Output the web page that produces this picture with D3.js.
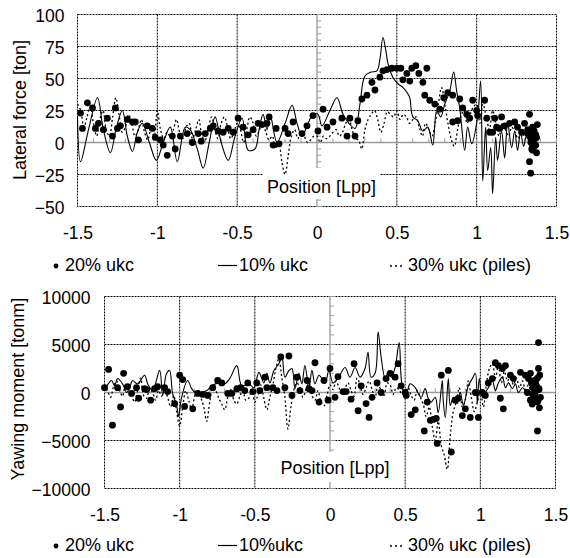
<!DOCTYPE html>
<html><head><meta charset="utf-8">
<script src="https://cdn.jsdelivr.net/npm/d3@7"></script>
<style>
body{margin:0;background:#fff}
svg text{font-family:"Liberation Sans",Arial,sans-serif;fill:#000}
</style></head><body>
<svg id="c" width="570" height="558"></svg>
<script>
// ---------------- data ----------------
const xTicks = [-1.5, -1, -0.5, 0, 0.5, 1, 1.5];
const forceTicks = [-50, -25, 0, 25, 50, 75, 100];
const momentTicks = [-10000, -5000, 0, 5000, 10000];
const legendTop = ["20% ukc", "10% ukc", "30% ukc (piles)"];
const legendBottom = ["20% ukc", "10%ukc", "30% ukc (piles)"];

// 10% ukc, lateral force (solid line)
const force10x = [-1.5,-1.481,-1.431,-1.375,-1.338,-1.294,-1.256,-1.219,-1.188,-1.156,-1.125,-1.094,-1.05,-1.006,-0.963,-0.919,-0.875,-0.825,-0.794,-0.75,-0.713,-0.675,-0.638,-0.6,-0.556,-0.513,-0.469,-0.431,-0.388,-0.363,-0.338,-0.313,-0.294,-0.25,-0.2,-0.156,-0.125,-0.094,-0.056,-0.025,0.006,0.031,0.081,0.125,0.163,0.2,0.238,0.269,0.3,0.338,0.375,0.394,0.413,0.431,0.444,0.475,0.506,0.538,0.569,0.581,0.6,0.631,0.663,0.694,0.725,0.75,0.775,0.8,0.831,0.856,0.875,0.894,0.925,0.944,0.969,1.006,1.025,1.038,1.056,1.069,1.088,1.1,1.119,1.131,1.156,1.175,1.194,1.219,1.238,1.256,1.275,1.294,1.313,1.331];
const force10y = [20,-15,10,35,10,-8,12,25,5,-7,8,15,0,-14,0,12,-15,12,10,-5,-20,0,20,0,-14,5,19,-6,-5,10,22,10,22,0,15,29,15,5,15,22,22,13,25,35,22,15,11,30,52,55,56,65,82,72,62,51,46,43,38,35,20,17,9,12,-2,25,20,30,40,55,40,27,-6,12,-1,20,48,-30,12,-22,-4,-40,4,-14,9,-12,15,-4,9,-6,8,-3,6,0];

// 20% ukc, lateral force (dots)
const force20x = [-1.481,-1.438,-1.406,-1.469,-1.388,-1.369,-1.338,-1.313,-1.281,-1.263,-1.25,-1.231,-1.188,-1.156,-1.138,-1.119,-1.063,-1.031,-1.013,-0.981,-0.963,-0.938,-0.906,-0.888,-0.856,-0.813,-0.781,-0.744,-0.725,-0.7,-0.669,-0.65,-0.619,-0.588,-0.556,-0.525,-0.494,-0.463,-0.431,-0.4,-0.369,-0.344,-0.313,-0.3,-0.275,-0.256,-0.238,-0.2,-0.181,-0.15,-0.094,-0.063,-0.025,0.006,0.038,0.063,0.1,0.156,0.188,0.206,0.238,0.256,0.281,0.313,0.344,0.363,0.394,0.413,0.438,0.469,0.5,0.525,0.538,0.563,0.581,0.594,0.619,0.638,0.663,0.675,0.688,0.706,0.738,0.769,0.794,0.819,0.85,0.85,0.881,0.894,0.913,0.938,0.956,0.975,1.0,1.006,1.05,1.063,1.081,1.1,1.113,1.125,1.144,1.156,1.175,1.206,1.238,1.256,1.281,1.3,1.319,1.331,1.344,1.35,1.331,1.338,1.32,1.33,1.34,1.345,1.35,1.355,1.36,1.365,1.37,1.375,1.38,1.34,1.35,1.36,1.37,1.375];
const force20y = [23,31,27,11,11,15,10,19,5,27,11,13,18,16,16,2,13,11,4,2,-2,-10,5,-5,5,7,0,7,1,7,11,13,9,8,11,8,19,12,6,10,15,14,15,20,-2,11,-1,11,7,16,7,13,21,9,26,12,16,19,5,19,5,17,34,37,47,41,51,56,57,58,58,58,49,54,48,58,60,54,47,37,58,33,30,26,35,39,37,16,17,34,27,22,19,33,25,21,33,19,8,8,19,12,11,20,13,15,16,12,8,15,7,22,4,-2,-15,-24,10,5,0,-5,12,8,-3,3,6,-8,14,2,-6,9,-2,4];

// 30% ukc (piles): common positions and both responses (dotted lines)
const pileX = [-1.5,-1.48,-1.46,-1.44,-1.42,-1.4,-1.38,-1.36,-1.34,-1.32,
-1.3,-1.28,-1.26,-1.24,-1.22,-1.2,-1.18,-1.16,-1.14,-1.12,
-1.1,-1.08,-1.06,-1.04,-1.02,-1,-0.98,-0.96,-0.94,-0.92,
-0.9,-0.88,-0.86,-0.84,-0.82,-0.8,-0.78,-0.76,-0.74,-0.72,
-0.7,-0.68,-0.66,-0.64,-0.62,-0.6,-0.58,-0.56,-0.54,-0.52,
-0.5,-0.48,-0.46,-0.44,-0.42,-0.4,-0.38,-0.36,-0.34,-0.32,
-0.3,-0.28,-0.26,-0.24,-0.22,-0.2,-0.18,-0.16,-0.14,-0.12,
-0.1,-0.08,-0.06,-0.04,-0.02,0,0.02,0.04,0.06,0.08,
0.1,0.12,0.14,0.16,0.18,0.2,0.22,0.24,0.26,0.28,
0.3,0.32,0.34,0.36,0.38,0.4,0.42,0.44,0.46,0.48,
0.5,0.52,0.54,0.56,0.58,0.6,0.62,0.64,0.66,0.68,
0.7,0.72,0.74,0.76,0.78,0.8,0.82,0.84,0.86,0.88,
0.9,0.92,0.94,0.96,0.98,1,1.02,1.04,1.06,1.08,
1.1,1.12,1.14,1.16,1.18,1.2,1.22,1.24,1.26,1.28,
1.3,1.32,1.34,1.36];
const force30y = [30,25,12,20,28,15,5,18,25,10,
5,20,35,22,8,12,22,15,5,10,
18,8,2,10,5,25,10,3,8,5,
10,18,8,3,12,15,3,10,18,5,
2,12,20,10,3,15,20,12,3,8,
15,10,0,10,20,15,5,10,15,8,
2,5,-5,0,-15,-25,-10,5,10,3,
8,5,0,2,5,5,0,5,3,5,
8,10,5,8,15,18,10,3,2,-5,
10,18,22,25,18,8,15,24,22,20,
25,18,22,20,15,18,20,12,5,15,
10,5,15,30,43,30,15,3,-3,10,
20,25,15,22,28,30,15,30,20,10,
25,15,5,15,10,5,12,8,3,10,
5,8,0,5];
const moment30y = [800,200,-500,600,1200,300,-400,800,300,-300,
-1000,200,1500,-300,-600,400,0,-800,200,-400,
300,-500,-1500,-300,-2000,-3500,-1500,200,-800,-1800,
-400,300,-500,-1500,-3000,-1000,500,200,-600,-1200,
-1800,-500,300,-800,-1200,-400,200,-800,-600,300,
-1000,-300,800,-600,-1800,-500,800,2500,3500,1500,
-500,-3800,-1500,300,1000,500,-500,300,1000,-300,
-800,200,-1000,-1400,-300,800,300,1200,500,-300,
400,1000,200,-400,1500,800,-200,500,1200,300,
-500,800,200,-300,1000,800,-200,500,300,-200,
200,500,-300,-800,200,-500,-1200,-2500,-1500,-3500,
-5000,-3000,-5500,-6500,-8000,-4500,-2000,-1000,500,-1500,
-800,1200,-500,-2000,-1000,200,-1500,800,2500,3000,
1500,2800,1000,2200,1200,1800,800,1500,500,1200,
300,800,0,500];

// 10% ukc, yawing moment (solid line)
const moment10x = [-1.5,-1.48,-1.453,-1.433,-1.413,-1.38,-1.353,-1.333,-1.313,-1.28,-1.233,-1.213,-1.18,-1.133,-1.113,-1.087,-1.067,-1.047,-1.02,-1.007,-0.987,-0.947,-0.92,-0.887,-0.853,-0.82,-0.787,-0.74,-0.7,-0.667,-0.62,-0.587,-0.54,-0.507,-0.473,-0.44,-0.42,-0.4,-0.373,-0.34,-0.32,-0.3,-0.273,-0.253,-0.233,-0.207,-0.187,-0.167,-0.14,-0.12,-0.1,-0.073,-0.033,-0.007,0.02,0.053,0.1,0.133,0.167,0.2,0.233,0.253,0.273,0.3,0.32,0.34,0.367,0.387,0.407,0.433,0.46,0.473,0.487,0.507,0.533,0.567,0.587,0.607,0.633,0.653,0.673,0.7,0.72,0.747,0.753,0.767,0.787,0.8,0.82,0.847,0.867,0.887,0.92,0.947,0.967,0.98,0.993,1.013,1.033,1.053,1.08,1.1,1.12,1.147,1.167,1.187,1.213,1.233,1.253,1.28,1.3];
const moment10y = [300,800,1250,700,1450,900,0,500,1250,900,1800,900,200,2300,-300,2000,2300,-100,-1350,-2500,-500,1250,400,-100,0,200,700,1000,900,1450,2800,700,900,500,2100,1000,2000,1000,2300,3000,3800,1600,2300,2500,400,2000,900,2800,500,2300,900,1800,1000,2300,1000,1450,2600,1600,2600,1600,2500,4200,1600,2000,6300,3700,1450,2100,1600,2600,5200,1600,200,-100,900,500,-100,-500,400,-600,-1000,-500,-2100,1250,-800,-2600,1450,-1350,-500,-1150,0,-1350,700,1450,2000,-1150,1450,-500,0,500,1250,200,1000,1600,500,1000,400,900,0,500,200];

// 20% ukc, yawing moment (dots)
const moment20x = [-1.5,-1.473,-1.447,-1.413,-1.393,-1.373,-1.347,-1.32,-1.287,-1.273,-1.233,-1.22,-1.193,-1.167,-1.147,-1.1,-1.08,-1.033,-1.0,-0.98,-0.967,-0.913,-0.88,-0.847,-0.813,-0.78,-0.747,-0.72,-0.68,-0.653,-0.62,-0.593,-0.567,-0.547,-0.513,-0.487,-0.467,-0.433,-0.42,-0.38,-0.353,-0.327,-0.3,-0.273,-0.253,-0.22,-0.2,-0.153,-0.14,-0.12,-0.1,-0.073,-0.04,-0.013,0.0,0.033,0.053,0.087,0.107,0.14,0.16,0.187,0.207,0.24,0.26,0.28,0.313,0.34,0.373,0.4,0.433,0.453,0.473,0.5,0.507,0.54,0.567,0.627,0.647,0.667,0.687,0.707,0.713,0.74,0.787,0.807,0.833,0.853,0.88,0.9,0.933,0.967,0.987,1.013,1.033,1.053,1.08,1.1,1.12,1.133,1.147,1.153,1.167,1.2,1.22,1.267,1.3,1.313,1.32,1.333,1.333,1.353,1.38,1.387,1.387,1.393,1.34,1.35,1.36,1.37,1.38,1.39,1.4,1.345,1.355,1.365,1.375,1.385,1.395,1.35,1.36,1.37,1.38,1.39,1.36,1.37];
const moment20y = [500,2400,-3400,500,-1500,2000,600,-100,500,-600,400,300,-800,400,600,500,100,-1150,1800,1350,-1450,-1700,-100,-200,-300,500,1250,1000,-100,-100,400,500,200,1000,100,1000,200,1600,500,500,200,3700,500,3800,-300,1600,200,1250,400,200,3100,-1000,1250,-800,2500,-500,1650,100,100,-700,3000,-1900,700,-1150,-2600,-500,1000,0,1450,2000,1600,3000,700,0,-300,-2300,-1800,-4000,-1000,-2900,-2800,-2700,-5300,1800,2300,-6200,-800,-600,-2400,-1700,-2600,0,-2600,0,-300,1000,1450,3100,2800,-600,2500,-1700,2800,1800,1450,2100,1800,0,1450,2000,-800,-1000,-4000,5200,2500,-1600,1000,500,-200,800,1500,300,-500,-1200,1200,0,600,-800,1800,-300,700,1300,-1000,400,200,-600];

// ---------------- drawing ----------------
const svg = d3.select("#c");
const FS = 18;      // titles, legend, label
const FT = 17.5;    // tick labels

function drawPanel(o) {
  const x = d3.scaleLinear().domain([-1.5, 1.5]).range([o.left, o.right]);
  const yDom = [o.yTicks[0], o.yTicks[o.yTicks.length - 1]];
  const y = d3.scaleLinear().domain(yDom).range([o.bottom, o.top]);
  const g = svg.append("g");
  const dash = "2,1";

  // dotted gridlines
  g.selectAll(null).data(xTicks.filter(v => v !== 0 && Math.abs(v) !== 1.5)).join("line")
    .attr("x1", d => x(d)).attr("x2", d => x(d)).attr("y1", o.top).attr("y2", o.bottom)
    .attr("stroke", "#000").attr("stroke-dasharray", dash);
  g.selectAll(null).data(o.yTicks.filter((v, i) => v !== 0 && i > 0 && i < o.yTicks.length - 1)).join("line")
    .attr("x1", o.left).attr("x2", o.right).attr("y1", d => y(d)).attr("y2", d => y(d))
    .attr("stroke", "#000").attr("stroke-dasharray", dash);
  // dotted frame
  g.append("rect").attr("x", o.left).attr("y", o.top)
    .attr("width", o.right - o.left).attr("height", o.bottom - o.top)
    .attr("fill", "none").attr("stroke", "#000").attr("stroke-dasharray", dash);

  // grey zero axes with minor ticks
  const grey = "#9a9a9a";
  g.append("line").attr("x1", o.left).attr("x2", o.right).attr("y1", y(0)).attr("y2", y(0))
    .attr("stroke", grey).attr("stroke-width", 1.3);
  g.append("line").attr("x1", x(0)).attr("x2", x(0)).attr("y1", o.top).attr("y2", o.bottom)
    .attr("stroke", grey).attr("stroke-width", 1.3);
  g.selectAll(null).data(d3.range(yDom[0], yDom[1] + 1e-9, o.minorY)).join("line")
    .attr("x1", x(0)).attr("x2", x(0) + 4).attr("y1", d => y(d)).attr("y2", d => y(d))
    .attr("stroke", grey);
  g.selectAll(null).data(d3.range(-15, 16).map(v => v / 10)).join("line")
    .attr("x1", d => x(d)).attr("x2", d => x(d)).attr("y1", y(0)).attr("y2", y(0) - 4)
    .attr("stroke", grey);

  // "Position [Lpp]" label on white box
  g.append("rect").attr("x", o.box[0]).attr("y", o.box[1]).attr("width", o.box[2]).attr("height", o.box[3]).attr("fill", "#fff");
  g.append("text").attr("x", o.box[0] + o.box[2] / 2).attr("y", o.posY).attr("text-anchor", "middle")
    .attr("font-size", FS).text("Position [Lpp]");

  // axes tick labels
  const ay = g.append("g").attr("transform", `translate(${o.left},0)`)
    .call(d3.axisLeft(y).tickValues(o.yTicks).tickSize(0).tickPadding(o.yPad).tickFormat(d3.format("d")));
  ay.select(".domain").remove();
  ay.selectAll("text").attr("font-size", FT).attr("font-family", null).attr("dy", "0.42em");
  const ax = g.append("g").attr("transform", `translate(0,${o.bottom})`)
    .call(d3.axisBottom(x).tickValues(xTicks).tickSize(0).tickPadding(20).tickFormat(d => String(d)));
  ax.select(".domain").remove();
  ax.selectAll("text").attr("font-size", FT).attr("font-family", null);

  // y title
  g.append("text").attr("transform", `translate(${o.titleX},${o.titleY}) rotate(-90)`)
    .attr("text-anchor", "middle").attr("dominant-baseline", "central")
    .attr("font-size", FS).text(o.title);

  // data: 30% dotted, 10% solid, 20% dots
  const curve = d3.curveCatmullRom.alpha(0.5);
  const line = d3.line().x(d => x(d[0])).y(d => y(d[1])).curve(curve);
  g.append("path").datum(d3.zip(pileX, o.s30)).attr("d", line)
    .attr("fill", "none").attr("stroke", "#000").attr("stroke-width", 1.3).attr("stroke-dasharray", "2,2.5");
  g.append("path").datum(d3.zip(o.s10x, o.s10y)).attr("d", line)
    .attr("fill", "none").attr("stroke", "#000").attr("stroke-width", 1.1);
  g.selectAll(null).data(d3.zip(o.s20x, o.s20y)).join("circle")
    .attr("cx", d => x(d[0])).attr("cy", d => y(d[1])).attr("r", 3.4).attr("fill", "#000");

  // legend
  const ly = o.legendY;
  g.append("circle").attr("cx", 56).attr("cy", ly - 5).attr("r", 2.4).attr("fill", "#000");
  g.append("text").attr("x", 65).attr("y", ly).attr("font-size", FS).text(o.legend[0]);
  g.append("line").attr("x1", 218).attr("x2", 237).attr("y1", ly - 5.5).attr("y2", ly - 5.5)
    .attr("stroke", "#000").attr("stroke-width", 1.2);
  g.append("text").attr("x", o.leg2X).attr("y", ly).attr("font-size", FS).text(o.legend[1]);
  g.append("line").attr("x1", 390).attr("x2", 403).attr("y1", ly - 5).attr("y2", ly - 5)
    .attr("stroke", "#000").attr("stroke-width", 1.3).attr("stroke-dasharray", "2,3");
  g.append("text").attr("x", 408).attr("y", ly).attr("font-size", FS).text(o.legend[2]);
}

drawPanel({
  left: 77.5, right: 556.5, top: 14.5, bottom: 206.5,
  yTicks: forceTicks, minorY: 5, yPad: 13,
  title: "Lateral force [ton]", titleX: 20, titleY: 110,
  box: [263, 168, 117, 31], posY: 193,
  s10x: force10x, s10y: force10y, s20x: force20x, s20y: force20y, s30: force30y,
  legend: legendTop, legendY: 271, leg2X: 239
});
drawPanel({
  left: 104.5, right: 555.5, top: 296.5, bottom: 488.5,
  yTicks: momentTicks, minorY: 1000, yPad: 14,
  title: "Yawing moment [tonm]", titleX: 18, titleY: 389,
  box: [278, 452, 114, 30], posY: 474,
  s10x: moment10x, s10y: moment10y, s20x: moment20x, s20y: moment20y, s30: moment30y,
  legend: legendBottom, legendY: 551, leg2X: 239
});
</script>
</body></html>
